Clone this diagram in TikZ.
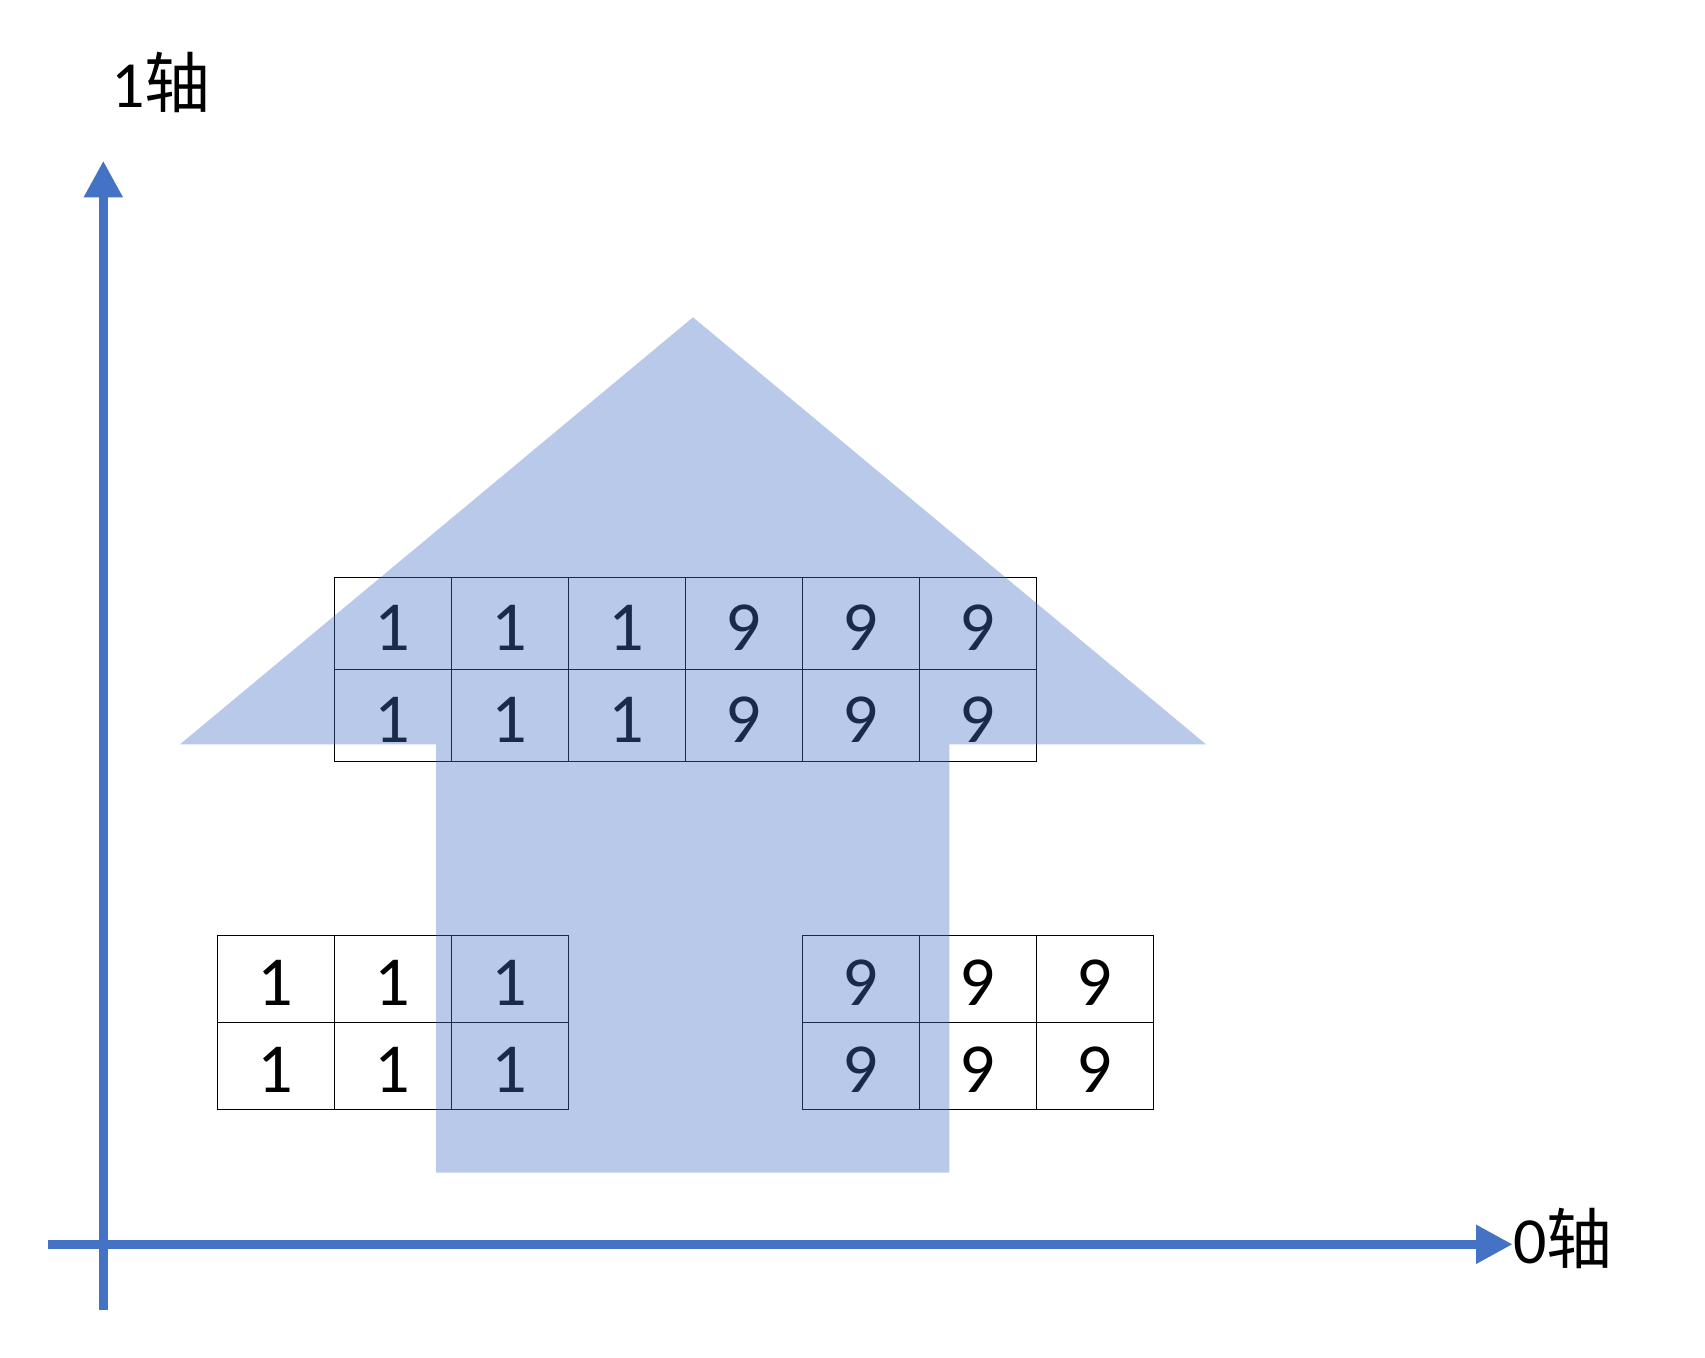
\documentclass[tikz,border=0pt]{standalone}
\usepackage{fontspec}
\setmainfont{Carlito}
\newfontfamily\cjk{Noto Sans CJK SC}
\usetikzlibrary{arrows.meta,positioning}

\begin{document}
\begin{tikzpicture}[x=0.02cm, y=-0.02cm,
    cell/.style={draw, line width=0.6pt, outer sep=0pt, inner sep=0pt,
      minimum width=2.34cm, minimum height=1.84cm, text height=1.07cm, text depth=0cm,
      font=\fontsize{40}{48}\selectfont},
    lowcell/.style={cell, minimum height=1.74cm},
    axis/.style={draw=axisblue, line width=0.18cm, -{Triangle[length=0.734cm,width=0.734cm]}},
    label/.style={anchor=base, inner sep=0pt, font=\fontsize{37.5}{45}\selectfont}]
    \definecolor{axisblue}{HTML}{4472C4}
    \useasboundingbox (0,0) rectangle (1705,1357);

    % top table
    \node[cell] (a1) at (392.8,623.3) {1};
    \node[cell, right=0pt of a1] (a2) {1};
    \node[cell, right=0pt of a2] (a3) {1};
    \node[cell, right=0pt of a3] (a4) {9};
    \node[cell, right=0pt of a4] (a5) {9};
    \node[cell, right=0pt of a5] (a6) {9};
    \node[cell, below=0pt of a1] (b1) {1};
    \node[cell, right=0pt of b1] (b2) {1};
    \node[cell, right=0pt of b2] (b3) {1};
    \node[cell, right=0pt of b3] (b4) {9};
    \node[cell, right=0pt of b4] (b5) {9};
    \node[cell, right=0pt of b5] (b6) {9};

    % bottom tables
    \node[lowcell] (c1) at (275.8,978.8) {1};
    \node[lowcell, right=0pt of c1] (c2) {1};
    \node[lowcell, right=0pt of c2] (c3) {1};
    \node[lowcell, below=0pt of c1] (d1) {1};
    \node[lowcell, right=0pt of d1] (d2) {1};
    \node[lowcell, right=0pt of d2] (d3) {1};
    \node[lowcell] (e1) at (860.8,978.8) {9};
    \node[lowcell, right=0pt of e1] (e2) {9};
    \node[lowcell, right=0pt of e2] (e3) {9};
    \node[lowcell, below=0pt of e1] (f1) {9};
    \node[lowcell, right=0pt of f1] (f2) {9};
    \node[lowcell, right=0pt of f2] (f3) {9};

    % big arrow
    \fill[axisblue, fill opacity=0.38] (693,317.3) -- (1206,744.3) -- (949.3,744.3)
      -- (949.3,1172.7) -- (436,1172.7) -- (436,744.3) -- (180,744.3) -- cycle;

    % axes
    \coordinate (ybottom) at (103.3,1310);
    \coordinate (ytop) at (103.3,160.7);
    \coordinate (xleft) at (48.3,1244.3);
    \coordinate (xright) at (1512.7,1244.3);
    \path[axis] (ybottom) -- (ytop);
    \path[axis] (xleft) -- (xright);

    \node[label] (ylabel) at (161,107) {1{\cjk 轴}};
    \node[label] (xlabel) at (1563,1263) {0{\cjk 轴}};
  \end{tikzpicture}
\end{document}
